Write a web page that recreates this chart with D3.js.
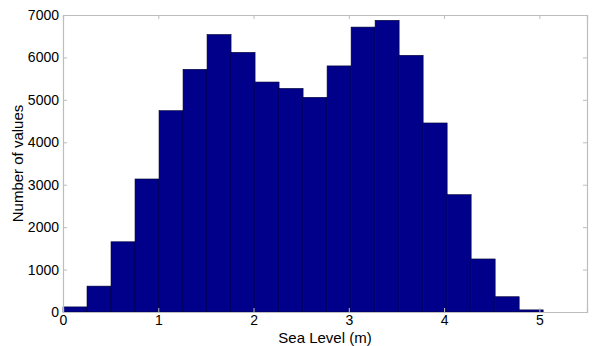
<!DOCTYPE html>
<html>
<head>
<meta charset="utf-8">
<script src="https://cdn.jsdelivr.net/npm/d3@7"></script>
<style>
  body { margin: 0; background: #fff; }
  text { font-family: "Liberation Sans", Arial, sans-serif; fill: #000; }
</style>
</head>
<body>
<div id="chart"></div>
<script>
// histogram counts, 20 bins between 0 and ~5.04 m
const binStart = 0;
const binWidth = 0.252;
const counts = [120, 610, 1655, 3135, 4745, 5720, 6540, 6120, 5420, 5270,
  5060, 5800, 6715, 6875, 6050, 4455, 2765, 1250, 360, 50];
const xTicks = [0, 1, 2, 3, 4, 5];
const yTicks = [0, 1000, 2000, 3000, 4000, 5000, 6000, 7000];

const margin = { top: 15, right: 5, bottom: 34, left: 63 };
const width = 592 - margin.left - margin.right;
const height = 346 - margin.top - margin.bottom;

const bins = counts.map((c, i) => ({
  x0: binStart + i * binWidth,
  x1: binStart + (i + 1) * binWidth,
  count: c
}));

const xScale = d3.scaleLinear().domain([0, 5.5]).range([0, width]);
const yScale = d3.scaleLinear().domain([0, 7000]).range([height, 0]);

const svg = d3.select("#chart")
  .append("svg")
  .attr("width", 592)
  .attr("height", 346)
  .append("g")
  .attr("transform", `translate(${margin.left}, ${margin.top})`);

svg.selectAll("rect.bar")
  .data(bins)
  .enter()
  .append("rect")
  .attr("class", "bar")
  .attr("x", d => xScale(d.x0))
  .attr("y", d => yScale(d.count))
  .attr("width", d => xScale(d.x1) - xScale(d.x0))
  .attr("height", d => yScale(0) - yScale(d.count))
  .attr("fill", "#00008b")
  .attr("stroke", "#000033")
  .attr("stroke-width", 0.6);

// box + inward ticks, matlab style
const boxColor = "#bdbdbd";
const tickLen = 4;

svg.append("g")
  .attr("transform", `translate(0, ${height})`)
  .call(d3.axisBottom(xScale).tickValues(xTicks).tickSize(-tickLen).tickPadding(3).tickFormat(d3.format("d")));

svg.append("g")
  .call(d3.axisLeft(yScale).tickValues(yTicks).tickSize(-tickLen).tickPadding(4).tickFormat(d3.format("d")));

svg.append("g")
  .call(d3.axisTop(xScale).tickValues(xTicks).tickSize(-tickLen).tickFormat(""));

svg.append("g")
  .attr("transform", `translate(${width}, 0)`)
  .call(d3.axisRight(yScale).tickValues(yTicks).tickSize(-tickLen).tickFormat(""));

svg.selectAll(".domain").attr("stroke", boxColor).attr("stroke-width", 1.2);
svg.selectAll(".tick line").attr("stroke", boxColor);
svg.selectAll(".tick text").style("font-size", "14px").attr("fill", "#000");

svg.append("text")
  .attr("x", width / 2)
  .attr("y", height + 31)
  .attr("text-anchor", "middle")
  .style("font-size", "15px")
  .text("Sea Level (m)");

svg.append("text")
  .attr("transform", `translate(${-40}, ${height / 2}) rotate(-90)`)
  .attr("text-anchor", "middle")
  .style("font-size", "15px")
  .text("Number of values");
</script>
</body>
</html>
